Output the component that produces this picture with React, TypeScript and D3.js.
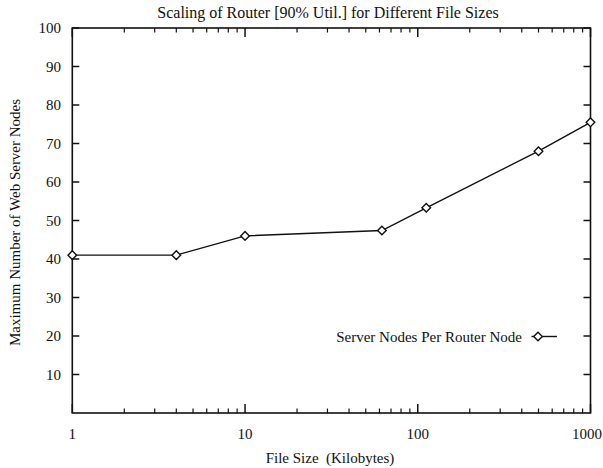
import React from "react";
import * as d3 from "d3";

const fileSizes = [1, 4, 10, 62, 112, 500, 1000];
const serverNodes = [41, 41, 46, 47.4, 53.3, 68, 75.5];
const yTicks = [10, 20, 30, 40, 50, 60, 70, 80, 90, 100];
const xMajorTicks = [1, 10, 100, 1000];
const seriesName = "Server Nodes Per Router Node";
const titleText = "Scaling of Router [90% Util.] for Different File Sizes";
const xLabel = "File Size  (Kilobytes)";
const yLabel = "Maximum Number of Web Server Nodes";

const W = 603;
const H = 468;
const left = 72.3;
const right = 590.5;
const top = 28;
const bottom = 413;
const font = "Liberation Serif, DejaVu Serif, serif";

export default function App() {
  const x = d3.scaleLog().domain([1, 1000]).range([left, right]);
  const y = d3.scaleLinear().domain([0, 100]).range([bottom, top]);

  const minorTicks: number[] = [];
  for (let d = 1; d < 1000; d *= 10) {
    for (let k = 2; k <= 9; k++) minorTicks.push(d * k);
  }

  const line = d3
    .line<number>()
    .x((_, i) => x(fileSizes[i]))
    .y((v) => y(v));

  const diamond = (cx: number, cy: number, r = 4.3) =>
    `M${cx},${cy - r}L${cx + r},${cy}L${cx},${cy + r}L${cx - r},${cy}Z`;

  const stroke = "#111";
  const legY = 336.5;
  const ts: React.CSSProperties = { fontFamily: font, fontSize: 15, whiteSpace: "pre" };

  return (
    <svg
      width={W}
      height={H}
      style={{ position: "absolute", left: 0, top: 0, background: "#fff" }}
    >
      <rect x={0} y={0} width={W} height={H} fill="#fff" />
      <rect
        x={left}
        y={top}
        width={right - left}
        height={bottom - top}
        fill="none"
        stroke={stroke}
        strokeWidth={1.6}
      />
      {yTicks.map((t) => (
        <g key={"y" + t}>
          <line x1={left} x2={left + 7} y1={y(t)} y2={y(t)} stroke={stroke} strokeWidth={1.5} />
          <line x1={right} x2={right - 7} y1={y(t)} y2={y(t)} stroke={stroke} strokeWidth={1.5} />
          <text x={61} y={y(t)} dy="0.35em" textAnchor="end" style={ts} fill="#111">
            {t}
          </text>
        </g>
      ))}
      {xMajorTicks.map((t, i) => {
        const last = i === xMajorTicks.length - 1;
        return (
          <g key={"xm" + t}>
            <line x1={x(t)} x2={x(t)} y1={bottom} y2={bottom - 9} stroke={stroke} strokeWidth={1.5} />
            <line x1={x(t)} x2={x(t)} y1={top} y2={top + 9} stroke={stroke} strokeWidth={1.5} />
            <text
              x={last ? W - 1 : x(t)}
              y={439}
              textAnchor={last ? "end" : "middle"}
              style={ts}
              fill="#111"
            >
              {t}
            </text>
          </g>
        );
      })}
      {minorTicks.map((t) => (
        <g key={"xn" + t}>
          <line x1={x(t)} x2={x(t)} y1={bottom} y2={bottom - 4.5} stroke={stroke} strokeWidth={1.2} />
          <line x1={x(t)} x2={x(t)} y1={top} y2={top + 4.5} stroke={stroke} strokeWidth={1.2} />
        </g>
      ))}
      <path d={line(serverNodes) || ""} fill="none" stroke={stroke} strokeWidth={1.4} />
      {serverNodes.map((v, i) => (
        <path
          key={"p" + i}
          d={diamond(x(fileSizes[i]), y(v))}
          fill="#fff"
          stroke={stroke}
          strokeWidth={1.4}
        />
      ))}
      <text x={522} y={legY} dy="0.35em" textAnchor="end" style={ts} fill="#111">
        {seriesName}
      </text>
      <line x1={531.5} x2={557} y1={legY} y2={legY} stroke={stroke} strokeWidth={1.4} />
      <path d={diamond(538, legY)} fill="#fff" stroke={stroke} strokeWidth={1.4} />
      <text x={328} y={18} textAnchor="middle" style={{ ...ts, fontSize: 16 }} fill="#111">
        {titleText}
      </text>
      <text x={330} y={463} textAnchor="middle" style={ts} fill="#111">
        {xLabel}
      </text>
      <text
        transform={`translate(20,${(top + bottom) / 2 + 2}) rotate(-90)`}
        textAnchor="middle"
        style={ts}
        fill="#111"
      >
        {yLabel}
      </text>
    </svg>
  );
}
